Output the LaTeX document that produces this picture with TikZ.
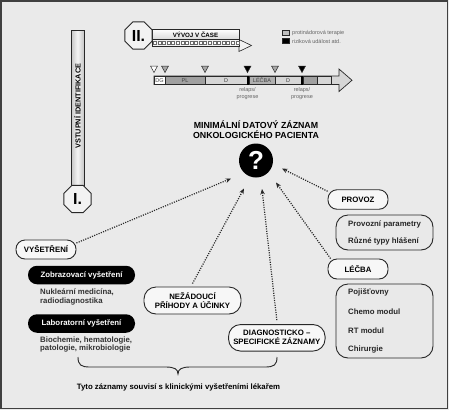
\documentclass[tikz,border=0pt]{standalone}
\usepackage{fontspec}
\setmainfont{Liberation Sans}
\usetikzlibrary{shapes.geometric,arrows.meta,calc}
\definecolor{bgc}{RGB}{234,234,234}
\definecolor{edge}{RGB}{40,40,40}
\definecolor{segdark}{RGB}{160,160,160}
\definecolor{segmid}{RGB}{175,175,175}
\definecolor{seglight}{RGB}{214,214,214}
\definecolor{txtgray}{RGB}{100,100,100}
\newcommand\fsz[2]{\fontsize{#1}{#2}\selectfont}
\newcommand\mtri[2]{\filldraw[fill=#2, draw=edge, line width=0.5pt] (#1-3.5,66) -- (#1+3.5,66) -- (#1,72.5) -- cycle;}
\tikzset{
  pill/.style={draw=edge, line width=0.9pt, fill=white!94!gray, rounded corners=9pt, inner sep=0pt,
    font=\fsz{7.8}{9}\bfseries, align=center},
  listbox/.style={draw=edge, line width=0.9pt, fill=gray!17, rounded corners=12pt, inner sep=0pt},
  blackpill/.style={fill=black, rounded corners=9pt, text=white, inner sep=0pt,
    font=\fsz{7.8}{9}\bfseries, minimum width=107pt, minimum height=18.5pt},
  octo/.style={regular polygon, regular polygon sides=8, minimum size=29.5pt, inner sep=0pt,
    draw=edge, line width=0.9pt, fill=white!90!gray, font=\fsz{16}{16}\bfseries},
  dotarrow/.style={line width=1.2pt, dash pattern=on 1.1pt off 1.3pt, draw=edge,
    -{Stealth[length=5.5pt,width=4.5pt]}},
  item/.style={anchor=west, inner sep=0pt, font=\fsz{7.8}{9}\bfseries, text=black!85},
  note/.style={inner sep=0pt, align=left, font=\fsz{7.8}{8.6}\bfseries, text=black!80},
  seglabel/.style={inner sep=0pt, font=\fsz{5.5}{6}, text=black!75},
  tiny/.style={inner sep=0pt, font=\fsz{5.5}{7}, text=txtgray, align=center},
}
\begin{document}
\begin{tikzpicture}[x=1pt, y=-1pt]
\useasboundingbox (0,0) rectangle (449,410);
\fill[bgc] (0,0) rectangle (449,410);
\draw[draw=black!75, line width=1.6pt] (1.2,1.2) rectangle (447.5,408.3);

% ---- vertical bar: VSTUPNI IDENTIFIKACE
\shade[left color=gray!45, right color=gray!45, middle color=white!92!gray] (71,30) rectangle (84,186);
\draw[edge, line width=0.8pt] (71,30) rectangle (84,186);
\node[rotate=90, inner sep=0pt, font=\fsz{7.3}{8}\bfseries] (vstup) at (77.5,106) {VSTUPNÍ IDENTIFIKACE};
\node[octo] (oct1) at (77.5,199) {I.};

% ---- VYVOJ V CASE
\filldraw[fill=white!90!gray, draw=edge, line width=0.6pt] (239,39.5) -- (251.5,45.5) -- (239,51.5) -- cycle;
\filldraw[fill=white!90!gray, draw=edge, line width=0.6pt] (152,39.5) rectangle (239,46.5);
\foreach \i in {0,...,18} \draw[edge!70, line width=0.4pt, fill=white] (153.3+\i*4.58,41.5) rectangle ++(3,3);
\shade[top color=white, bottom color=gray!30] (152,29) rectangle (239,39.5);
\draw[edge, line width=0.8pt] (152,29) rectangle (239,39.5);
\node[inner sep=0pt, font=\fsz{6.2}{7}\bfseries] (vyvoj) at (195.5,34.5) {VÝVOJ V ČASE};
\node[octo] (oct2) at (138.5,35.5) {II.};

% ---- legend
\filldraw[fill=gray!50, draw=edge, line width=0.5pt] (282,30) rectangle (289,35.5);
\filldraw[fill=black, draw=edge, line width=0.5pt] (282,38) rectangle (289,43.5);
\node[tiny, anchor=west] (leg1) at (292,33) {protinádorová terapie};
\node[tiny, anchor=west] (leg2) at (292,41) {riziková událost atd.};

% ---- timeline
\filldraw[fill=seglight, draw=edge, line width=0.7pt] (154,76) -- (339,76) -- (339,69) -- (352,80.25) -- (339,91.5) -- (339,84.5) -- (154,84.5) -- cycle;
\begin{scope}[draw=edge, line width=0.5pt]
\filldraw[fill=white] (154,76) rectangle (165,84.5);
\filldraw[fill=segdark] (165,76) rectangle (205,84.5);
\filldraw[fill=seglight] (205,76) rectangle (247,84.5);
\filldraw[fill=segmid] (249,76) rectangle (275,84.5);
\filldraw[fill=seglight] (275,76) rectangle (301,84.5);
\filldraw[fill=segdark] (303,76) rectangle (317,84.5);
\filldraw[fill=seglight] (317,76) rectangle (331,84.5);
\end{scope}
\fill[black] (247,76) rectangle (249,84.5);
\fill[black] (301,76) rectangle (303,84.5);
\node[seglabel] (sDG) at (159.5,80.3) {DG};
\node[seglabel] (sPL) at (185,80.3) {PL};
\node[seglabel] (sD1) at (226,80.3) {D};
\node[seglabel] (sLE) at (262,80.3) {LÉČBA};
\node[seglabel] (sD2) at (288,80.3) {D};
\mtri{154}{white}
\mtri{165}{gray!70}
\mtri{205}{gray!70}
\mtri{247.5}{black}
\mtri{275}{gray!70}
\mtri{302}{black}
\node[tiny] (rel1) at (247.5,94) {relaps/\\progrese};
\node[tiny] (rel2) at (302,94) {relaps/\\progrese};

% ---- title and question mark
\node[inner sep=0pt, align=center, font=\fsz{8.8}{9.4}\bfseries] (title) at (256,129.5) {MINIMÁLNÍ DATOVÝ ZÁZNAM\\ONKOLOGICKÉHO PACIENTA};
\node[circle, fill=black, minimum size=34pt, inner sep=0pt, text=white, font=\fsz{26}{26}\bfseries] (q) at (256,160.5) {?};

% ---- right side
\node[pill, minimum width=60pt, minimum height=19.5pt] (prov) at (358,199.5) {PROVOZ};
\node[listbox, minimum width=97pt, minimum height=35pt] (provbox) at (384.5,232.5) {};
\node[item] (pp) at (348,224) {Provozní parametry};
\node[item] (rt) at (348,241) {Různé typy hlášení};
\node[pill, minimum width=60pt, minimum height=20pt] (lec) at (358,269) {LÉČBA};
\node[listbox, minimum width=97pt, minimum height=74pt] (lecbox) at (384.5,321) {};
\node[item] (i1) at (348,292) {Pojišťovny};
\node[item] (i2) at (348,312) {Chemo modul};
\node[item] (i3) at (348,330.5) {RT modul};
\node[item] (i4) at (348,349) {Chirurgie};

% ---- middle
\node[pill, minimum width=96.5pt, minimum height=26.5pt, rounded corners=12pt] (diag) at (276.8,337.8) {DIAGNOSTICKO –\\SPECIFICKÉ ZÁZNAMY};
\node[pill, minimum width=97pt, minimum height=27pt, rounded corners=12pt] (nez) at (192.5,300.5) {NEŽÁDOUCÍ\\PŘÍHODY A ÚČINKY};

% ---- left
\node[pill, minimum width=60pt, minimum height=19pt] (vys) at (46,249.5) {VYŠETŘENÍ};
\node[blackpill] (zob) at (81.5,275) {Zobrazovací vyšetření};
\node[note, anchor=north west] (nuk) at (40,289) {Nukleární medicína,\\radiodiagnostika};
\node[blackpill] (lab) at (81.5,323.5) {Laboratorní vyšetření};
\node[note, anchor=north west] (bio) at (40,336.5) {Biochemie, hematologie,\\patologie, mikrobiologie};

% ---- brace and caption
\draw[edge, line width=0.9pt] (78,357) .. controls (78,365) and (81,367) .. (90,367) -- (166,367)
  .. controls (174,367) and (178,369) .. (178,374) .. controls (178,369) and (182,367) .. (190,367)
  -- (265,367) .. controls (274,367) and (277,365) .. (277,357);
\node[inner sep=0pt, font=\fsz{7.8}{9}\bfseries] (cap) at (178.5,387) {Tyto záznamy souvisí s klinickými vyšetřeními lékařem};

% ---- dotted arrows
\draw[dotarrow] ($(vys.east)+(0,-6.5)$) -- ($(q.center)+(-25,18)$);
\draw[dotarrow] ($(nez.north)+(0,-3)$) -- ($(q.center)+(-12,28)$);
\draw[dotarrow] ($(diag.north)+(0,-4)$) -- ($(q.center)+(6,28.5)$);
\draw[dotarrow] ($(lec.north west)+(3,0)$) -- ($(q.center)+(20,22)$);
\draw[dotarrow] ($(prov.north west)+(0,2)$) -- ($(q.center)+(26,8)$);
\end{tikzpicture}
\end{document}
